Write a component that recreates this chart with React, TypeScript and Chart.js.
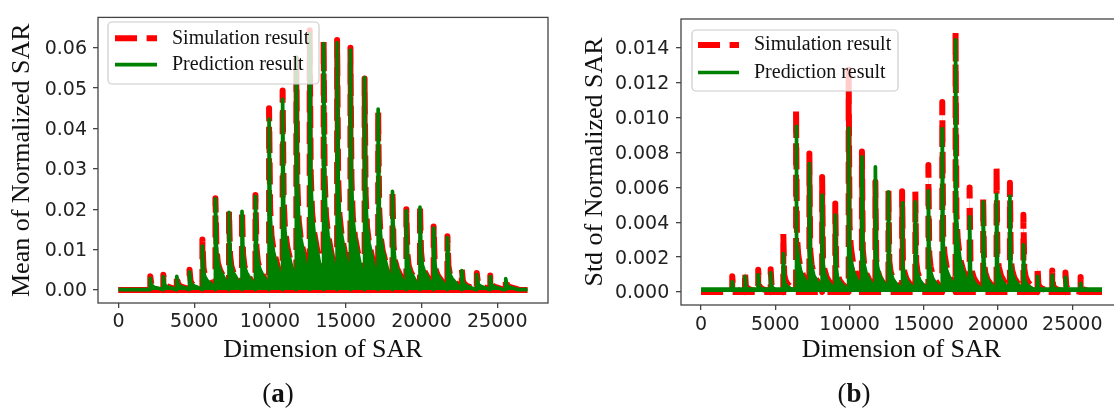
import React, { useEffect, useRef } from 'react';
import { Chart, registerables } from 'chart.js';

Chart.register(...registerables);

// ---- data ----
const spikeDims = [2100, 2960, 3850, 4690, 5540, 6400, 7295, 8155, 9040, 9940, 10835, 11740, 12620, 13540, 14430, 15310, 16245, 17140, 18085, 19000, 19900, 20800, 21710, 22660, 23650, 24540, 25560];

const meanSim = [0.0034, 0.0038, 0.0038, 0.005, 0.0125, 0.0227, 0.0196, 0.0198, 0.0235, 0.045, 0.0494, 0.0572, 0.0643, 0.0617, 0.0619, 0.06, 0.0524, 0.0443, 0.0246, 0.02, 0.021, 0.0157, 0.0133, 0.0052, 0.0042, 0.0036, 0.0031];
const meanPred = [0.0029, 0.0033, 0.0034, 0.0045, 0.0109, 0.0226, 0.0192, 0.0195, 0.0232, 0.0423, 0.0472, 0.0577, 0.0635, 0.061, 0.0612, 0.0594, 0.0526, 0.0448, 0.0244, 0.0196, 0.0205, 0.0153, 0.013, 0.0048, 0.0038, 0.0033, 0.0028];

const stdSim = [0.0009, 0.00118, 0.00127, 0.0013, 0.00337, 0.0105, 0.00794, 0.0066, 0.00508, 0.01275, 0.00806, 0.00632, 0.00586, 0.00578, 0.00578, 0.00728, 0.0109, 0.01495, 0.006, 0.00545, 0.00726, 0.00626, 0.00443, 0.00148, 0.00124, 0.00112, 0.00086];
const stdPred = [0.0006, 0.0009, 0.001, 0.0011, 0.0022, 0.0095, 0.00737, 0.00556, 0.00441, 0.0094, 0.00775, 0.00718, 0.00574, 0.00512, 0.00517, 0.0058, 0.00937, 0.01447, 0.00431, 0.00517, 0.0056, 0.0055, 0.0027, 0.0009, 0.00095, 0.00085, 0.0005];

// shape of one spike's decaying tail (offset in dims, fraction of peak)
const meanTailOffsets = [0, 70, 160, 300, 480, 660, 800];
const meanTailShape = [1, 0.45, 0.3, 0.22, 0.16, 0.1, 0.05];
const stdTailOffsets = [0, 60, 150, 300, 480, 660, 800];
const stdTailShape = [1, 0.3, 0.2, 0.13, 0.09, 0.06, 0.04];

const dimRange = [0, 27000];
const simFloor = 0;
const meanPredFloor = 0.0001;
const stdPredFloor = 0.00017;

const xTicks = [0, 5000, 10000, 15000, 20000, 25000];
const meanTicks = [0, 0.01, 0.02, 0.03, 0.04, 0.05, 0.06];
const stdTicks = [0, 0.002, 0.004, 0.006, 0.008, 0.01, 0.012, 0.014];
const xLimits = [-1350, 28349];
const meanLimits = [-0.00322, 0.0675];
const stdLimits = [-0.000746, 0.01566];

const legendLabels = ['Simulation result', 'Prediction result'];

type Pt = { x: number; y: number };

function envelope(peaks: number[], floor: number, offsets: number[], shape: number[]): Pt[] {
  const pts: Pt[] = [{ x: dimRange[0], y: floor }];
  spikeDims.forEach((d, i) => {
    pts.push({ x: d, y: floor });
    offsets.forEach((o, j) => pts.push({ x: d + o, y: Math.max(floor, peaks[i] * shape[j]) }));
  });
  const last = spikeDims[spikeDims.length - 1] + offsets[offsets.length - 1];
  pts.push({ x: last + 40, y: floor });
  pts.push({ x: dimRange[1], y: floor });
  return pts;
}

type Panel = {
  sim: number[];
  pred: number[];
  predFloor: number;
  offsets: number[];
  shape: number[];
  yTicks: number[];
  yLimits: number[];
  decimals: number;
  yTitle: string;
  yAxisWidth: number;
  xAxisHeight: number;
  yTitlePad: number;
  xTickPad: number;
  yTickPad: number;
  floorDash: number[];
  padding: { top: number; right: number; bottom: number; left: number };
  legend: { x: number; y: number; w: number; h: number; hx0: number; hx1: number; r1: number; r2: number; tx: number };
};

const framePlugin = (p: Panel) => ({
  id: 'frameAndLegend',
  afterDatasetsDraw(chart: any) {
    const ctx: CanvasRenderingContext2D = chart.ctx;
    const a = chart.chartArea;
    ctx.save();
    ctx.strokeStyle = '#444';
    ctx.lineWidth = 1.3;
    ctx.strokeRect(a.left, a.top, a.right - a.left, a.bottom - a.top);
    const L = p.legend;
    ctx.fillStyle = 'rgba(255,255,255,0.8)';
    ctx.strokeStyle = '#cccccc';
    ctx.lineWidth = 1.2;
    ctx.beginPath();
    (ctx as any).roundRect(L.x, L.y, L.w, L.h, 4);
    ctx.fill();
    ctx.stroke();
    ctx.lineCap = 'butt';
    ctx.strokeStyle = '#ff0000';
    ctx.lineWidth = 6;
    ctx.setLineDash([22, 9.6]);
    ctx.beginPath();
    ctx.moveTo(L.hx0, L.r1);
    ctx.lineTo(L.hx1, L.r1);
    ctx.stroke();
    ctx.setLineDash([]);
    ctx.strokeStyle = '#008000';
    ctx.lineWidth = 3.7;
    ctx.beginPath();
    ctx.moveTo(L.hx0, L.r2);
    ctx.lineTo(L.hx1, L.r2);
    ctx.stroke();
    ctx.fillStyle = '#111';
    ctx.font = '20px "Liberation Serif"';
    ctx.textBaseline = 'middle';
    ctx.textAlign = 'left';
    ctx.fillText(legendLabels[0], L.tx, L.r1);
    ctx.fillText(legendLabels[1], L.tx, L.r2);
    ctx.restore();
  },
});

function makeConfig(p: Panel): any {
  const simPts = envelope(p.sim, simFloor, p.offsets, p.shape);
  const predPts = envelope(p.pred, p.predFloor, p.offsets, p.shape);
  const floorPts = dimRange.map((x) => ({ x, y: simFloor }));
  const tickColor = '#222';
  return {
    type: 'line',
    data: {
      datasets: [
        {
          label: legendLabels[1],
          data: predPts,
          borderColor: '#008000',
          backgroundColor: '#008000',
          borderWidth: 3.7,
          fill: 'origin',
          pointRadius: 0,
          tension: 0,
          borderJoinStyle: 'round',
          order: 0,
        },
        {
          label: legendLabels[0],
          data: simPts,
          borderColor: '#ff0000',
          backgroundColor: '#ff0000',
          borderWidth: 6,
          borderDash: [22, 9.6],
          fill: 'origin',
          pointRadius: 0,
          tension: 0,
          borderJoinStyle: 'round',
          order: 1,
        },
        {
          label: legendLabels[0] + ' floor',
          data: floorPts,
          borderColor: '#ff0000',
          borderWidth: 6,
          borderDash: p.floorDash,
          fill: false,
          pointRadius: 0,
          order: 2,
        },
      ],
    },
    options: {
      animation: false,
      responsive: false,
      devicePixelRatio: 1,
      events: [],
      layout: { padding: p.padding },
      plugins: { legend: { display: false }, tooltip: { enabled: false } },
      scales: {
        x: {
          type: 'linear',
          min: xLimits[0],
          max: xLimits[1],
          afterBuildTicks: (s: any) => {
            s.ticks = xTicks.map((v) => ({ value: v }));
          },
          afterFit: (s: any) => {
            s.height = p.xAxisHeight;
          },
          grid: { display: true, drawOnChartArea: false, drawTicks: true, tickLength: 5, color: '#444', lineWidth: 1.3 },
          border: { display: false },
          ticks: {
            autoSkip: false,
            maxRotation: 0,
            minRotation: 0,
            padding: p.xTickPad,
            color: tickColor,
            font: { family: 'DejaVu Sans', size: 19, lineHeight: 1.2 },
            callback: (v: number) => String(v),
          },
          title: {
            display: true,
            text: 'Dimension of SAR',
            color: '#111',
            font: { family: 'Liberation Serif', size: 26, lineHeight: 1.2 },
            padding: { top: 0, bottom: 44.4 },
          },
        },
        y: {
          type: 'linear',
          min: p.yLimits[0],
          max: p.yLimits[1],
          afterBuildTicks: (s: any) => {
            s.ticks = p.yTicks.map((v) => ({ value: v }));
          },
          afterFit: (s: any) => {
            s.width = p.yAxisWidth;
          },
          grid: { display: true, drawOnChartArea: false, drawTicks: true, tickLength: 5, color: '#444', lineWidth: 1.3 },
          border: { display: false },
          ticks: {
            padding: p.yTickPad,
            labelOffset: 1.5,
            color: tickColor,
            font: { family: 'DejaVu Sans', size: 19, lineHeight: 1.2 },
            callback: (v: number) => Number(v).toFixed(p.decimals),
          },
          title: {
            display: true,
            text: p.yTitle,
            color: '#111',
            font: { family: 'Liberation Serif', size: 26, lineHeight: 1.2 },
            padding: { top: p.yTitlePad, bottom: 0 },
          },
        },
      },
    },
    plugins: [framePlugin(p)],
  };
}

const meanPanel: Panel = {
  sim: meanSim,
  pred: meanPred,
  predFloor: meanPredFloor,
  offsets: meanTailOffsets,
  shape: meanTailShape,
  yTicks: meanTicks,
  yLimits: meanLimits,
  decimals: 2,
  yTitle: 'Mean of Normalized SAR',
  yAxisWidth: 98,
  xAxisHeight: 107,
  yTitlePad: 6.9,
  xTickPad: 3,
  yTickPad: 6,
  floorDash: [],
  padding: { top: 11, right: 9, bottom: 0, left: 0 },
  legend: { x: 108, y: 22, w: 211, h: 62, hx0: 115, hx1: 157, r1: 38.3, r2: 64.7, tx: 172 },
};

const stdPanel: Panel = {
  sim: stdSim,
  pred: stdPred,
  predFloor: stdPredFloor,
  offsets: stdTailOffsets,
  shape: stdTailShape,
  yTicks: stdTicks,
  yLimits: stdLimits,
  decimals: 3,
  yTitle: 'Std of Normalized SAR',
  yAxisWidth: 124,
  xAxisHeight: 105,
  yTitlePad: 22.4,
  xTickPad: 3.6,
  yTickPad: 6.7,
  floorDash: [22, 9.6],
  padding: { top: 19, right: 10, bottom: 0, left: 0 },
  legend: { x: 135, y: 30, w: 206, h: 61, hx0: 141, hx1: 182, r1: 45, r2: 72.5, tx: 197 },
};

function PanelChart({ panel, width, height }: { panel: Panel; width: number; height: number }) {
  const ref = useRef<HTMLCanvasElement | null>(null);
  useEffect(() => {
    if (!ref.current) return;
    const chart = new Chart(ref.current, makeConfig(panel));
    return () => chart.destroy();
  }, [panel]);
  return <canvas ref={ref} width={width} height={height} style={{ width, height, display: 'block' }} />;
}

const captionStyle: React.CSSProperties = {
  position: 'absolute',
  width: 120,
  textAlign: 'center',
  top: 379.6,
  fontSize: 27,
  lineHeight: '27px',
  fontFamily: '"Liberation Serif", serif',
  color: '#111',
  whiteSpace: 'nowrap',
};

export default function App() {
  return (
    <div style={{ position: 'absolute', left: 0, top: 0, width: 1114, height: 410, background: '#fff', overflow: 'hidden' }}>
      <div style={{ position: 'absolute', left: 0, top: 0, width: 557, height: 410 }}>
        <PanelChart panel={meanPanel} width={557} height={410} />
      </div>
      <div style={{ position: 'absolute', left: 557, top: 0, width: 557, height: 410, overflow: 'hidden' }}>
        <PanelChart panel={stdPanel} width={575} height={410} />
      </div>
      <div style={{ ...captionStyle, left: 278 - 60 }}>
        (<b>a</b>)
      </div>
      <div style={{ ...captionStyle, left: 854 - 60 }}>
        (<b>b</b>)
      </div>
    </div>
  );
}
